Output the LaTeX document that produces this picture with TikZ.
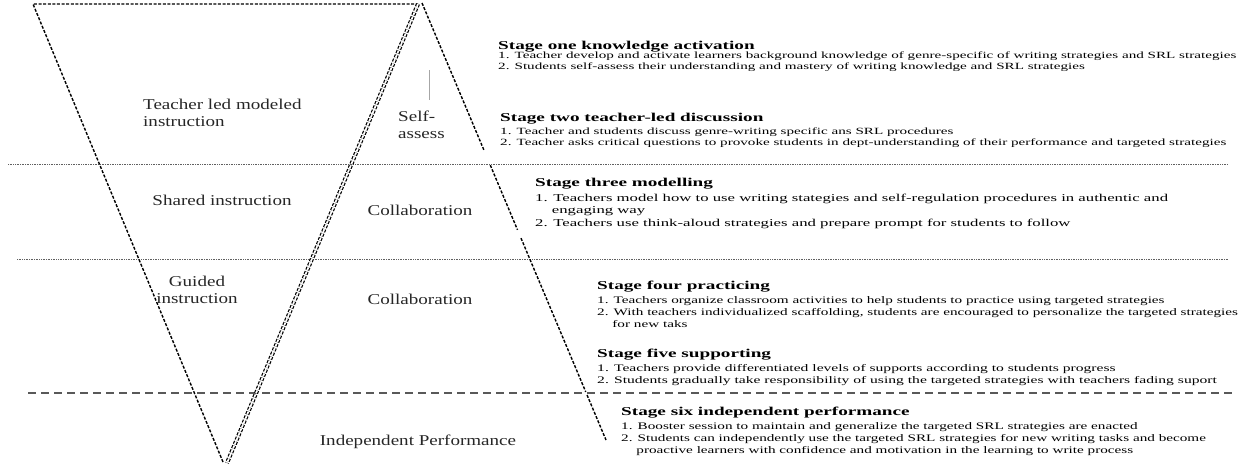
\documentclass[tikz,border=0pt]{standalone}
\usepackage{fontspec}
\setmainfont{Liberation Serif}
\newfontfamily\lblfont{Liberation Serif}[FakeStretch=1.27]
\newfontfamily\headfont{Liberation Serif}[FakeStretch=1.6]
\newfontfamily\bodyfontA{Liberation Serif}[FakeStretch=1.593]
\newfontfamily\bodyfontB{Liberation Serif}[FakeStretch=1.52]
\newfontfamily\bodyfontC{Liberation Serif}[FakeStretch=1.56]
\newfontfamily\bodyfontD{Liberation Serif}[FakeStretch=1.52]
\usetikzlibrary{calc}
\newcommand{\hang}{\phantom{1.\ }}
\begin{document}
\begin{tikzpicture}[x=1pt,y=-1pt,
  vline/.style={line width=1.4pt, dash pattern=on 3pt off 1.6pt},
  dline/.style={line width=1.2pt, dash pattern=on 3pt off 1.6pt, double, double distance=1.7pt},
  dotsep/.style={gray!75!black, line width=0.8pt, dash pattern=on 0.8pt off 0.9pt},
  dashsep/.style={gray!70!black, line width=1.3pt, dash pattern=on 8pt off 5pt},
  lbl/.style={font=\lblfont\fontsize{15}{17}\selectfont, inner sep=0pt, text=black!85},
  head/.style={font=\headfont\bfseries\fontsize{12}{14}\selectfont, inner sep=0pt, anchor=base west},
  bodyA/.style={font=\bodyfontA\fontsize{9.5}{10.5}\selectfont, inner sep=0pt, anchor=base west},
  bodyL/.style={font=\bodyfontA\fontsize{10.5}{12.5}\selectfont, inner sep=0pt, anchor=base west},
  bodyB/.style={font=\bodyfontB\fontsize{10}{12}\selectfont, inner sep=0pt, anchor=base west},
  bodyC/.style={font=\bodyfontC\fontsize{10}{12}\selectfont, inner sep=0pt, anchor=base west},
  bodyD/.style={font=\bodyfontD\fontsize{10}{12}\selectfont, inner sep=0pt, anchor=base west}]
\useasboundingbox (0,0) rectangle (1239,463);

% separators between the phases
\coordinate (d1a) at (8,164);   \coordinate (d1b) at (1228,164);
\coordinate (d2a) at (17,259);  \coordinate (d2b) at (1228,259);
\coordinate (d3a) at (28,393);  \coordinate (d3b) at (1232,393);
\draw[dotsep] (d1a) -- (d1b);
\draw[dotsep] (d2a) -- (d2b);
\draw[dashsep] (d3a) -- (d3b);

% the inverted triangle and the rising wedge
\coordinate (tl) at (33,4);
\coordinate (tr) at (418,4);
\coordinate (apex) at (422,3);
\coordinate (vl) at (223,462);
\coordinate (vr) at (227,463);
\coordinate (rend) at (606,440);
\draw[vline] (vl) -- (tl) -- (tr);
\draw[dline] (tr) -- (vr);
\draw[vline] (apex) -- ($(apex)!0.336!(rend)$);
\draw[vline] ($(apex)!0.371!(rend)$) -- ($(apex)!0.519!(rend)$);
\draw[vline] ($(apex)!0.538!(rend)$) -- ($(apex)!0.890!(rend)$);
\draw[vline] ($(apex)!0.897!(rend)$) -- (rend);
\coordinate (tk1) at (429,70); \coordinate (tk2) at (429,100);
\draw[gray!70, line width=0.8pt] (tk1) -- (tk2);

% phase labels
\node[lbl, anchor=base west] (tlm) at (143,109.5) {\begin{tabular}[t]{@{}l@{}}Teacher led modeled\\instruction\end{tabular}};
\node[lbl, anchor=base west] (self) at (398,121.7) {\begin{tabular}[t]{@{}l@{}}Self-\\assess\end{tabular}};
\node[lbl, anchor=base] (shared) at (222,205) {Shared instruction};
\node[lbl, anchor=base] (col1) at (420,215) {Collaboration};
\node[lbl, anchor=base] (guided) at (197,286) {\begin{tabular}[t]{@{}c@{}}Guided\\instruction\end{tabular}};
\node[lbl, anchor=base] (col2) at (420,304) {Collaboration};
\node[lbl, anchor=base] (indep) at (418,445) {Independent Performance};

% stage descriptions
\node[head] (h1) at (498,49.5) {Stage one knowledge activation};
\node[bodyA] (b1) at (498,58.5) {\begin{tabular}[t]{@{}l@{}}1. Teacher develop and activate learners background knowledge of genre-specific of writing strategies and SRL strategies\\2. Students self-assess their understanding and mastery of writing knowledge and SRL strategies\end{tabular}};

\node[head] (h2) at (500,121) {Stage two teacher-led discussion};
\node[bodyA] (b2) at (500,134.5) {\begin{tabular}[t]{@{}l@{}}1. Teacher and students discuss genre-writing specific ans SRL procedures\\2. Teacher asks critical questions to provoke students in dept-understanding of their performance and targeted strategies\end{tabular}};

\node[head] (h3) at (535,186) {Stage three modelling};
\node[bodyL] (b3) at (535,201) {\begin{tabular}[t]{@{}l@{}}1. Teachers model how to use writing stategies and self-regulation procedures in authentic and\\\hang engaging way\\2. Teachers use think-aloud strategies and prepare prompt for students to follow\end{tabular}};

\node[head] (h4) at (597,289) {Stage four practicing};
\node[bodyB] (b4) at (597,303) {\begin{tabular}[t]{@{}l@{}}1. Teachers organize classroom activities to help students to practice using targeted strategies\\2. With teachers individualized scaffolding, students are encouraged to personalize the targeted strategies\\\hang for new taks\end{tabular}};

\node[head] (h5) at (597,357) {Stage five supporting};
\node[bodyC] (b5) at (597,371) {\begin{tabular}[t]{@{}l@{}}1. Teachers provide differentiated levels of supports according to students progress\\2. Students gradually take responsibility of using the targeted strategies with teachers fading suport\end{tabular}};

\node[head] (h6) at (621,415) {Stage six independent performance};
\node[bodyD] (b6) at (621,429) {\begin{tabular}[t]{@{}l@{}}1. Booster session to maintain and generalize the targeted SRL strategies are enacted\\2. Students can independently use the targeted SRL strategies for new writing tasks and become\\\hang proactive learners with confidence and motivation in the learning to write process\end{tabular}};
\end{tikzpicture}
\end{document}
